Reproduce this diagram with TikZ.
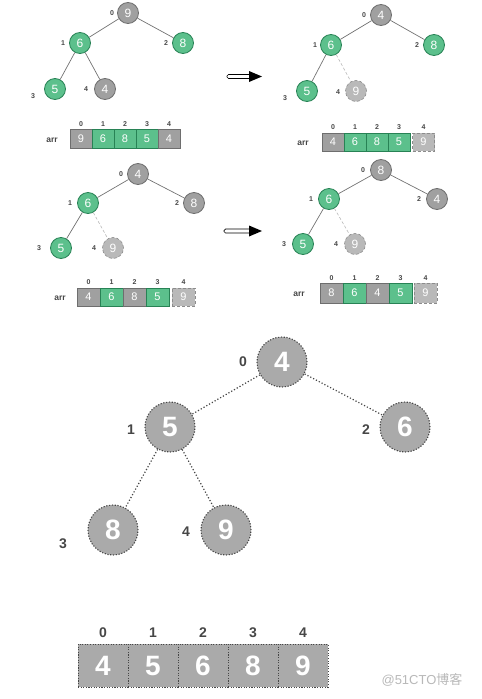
\documentclass[tikz,border=0pt]{standalone}
\usepackage{fontspec}
\setmainfont{Liberation Sans}
\newfontfamily\cjkfont{Noto Sans CJK SC}
\definecolor{hgreen}{RGB}{92,192,140}
\definecolor{hgreendk}{RGB}{40,130,85}
\definecolor{hgrey}{RGB}{160,160,160}
\definecolor{hgreydk}{RGB}{110,110,110}
\definecolor{hlight}{RGB}{185,185,185}
\definecolor{hdash}{RGB}{140,140,140}
\definecolor{hbig}{RGB}{170,170,170}
\definecolor{hlabel}{RGB}{70,70,70}
\definecolor{hedge}{RGB}{115,115,115}
\begin{document}
\begin{tikzpicture}[x=1pt,y=-1pt,
  base/.style={circle,minimum size=21pt,inner sep=0pt,line width=0.8pt,text=white,font=\fontsize{12}{12}\selectfont},
  gnode/.style={base,fill=hgreen,draw=hgreendk},
  ynode/.style={base,fill=hgrey,draw=hgreydk},
  dnode/.style={base,fill=hlight,draw=hdash,densely dashed,line width=0.6pt},
  bignode/.style={circle,minimum size=50pt,inner sep=0pt,fill=hbig,draw=hlabel,dash pattern=on 1.2pt off 1.6pt,line width=1.1pt,text=white,font=\bfseries\fontsize{28}{28}\selectfont},
  idx/.style={text=hlabel,font=\bfseries\fontsize{7}{7}\selectfont,inner sep=0pt},
  bigidx/.style={text=hlabel,font=\bfseries\fontsize{14}{14}\selectfont,inner sep=0pt},
  edge/.style={draw=hedge,line width=0.7pt},
  dedge/.style={draw=hlight,densely dashed,line width=0.6pt},
  bedge/.style={draw=hlabel,dash pattern=on 1.2pt off 2pt,line width=1.2pt},
  cellbase/.style={rectangle,inner sep=0pt,line width=0.7pt,text=white,font=\fontsize{11}{11}\selectfont},
  gcell/.style={cellbase,fill=hgreen,draw=hgreendk},
  ycell/.style={cellbase,fill=hgrey,draw=hgreydk},
  dcell/.style={cellbase,fill=hlight,draw=hdash,densely dashed,line width=0.6pt},
  arrlabel/.style={text=hlabel,font=\bfseries\fontsize{8.5}{8.5}\selectfont,inner sep=0pt},
  bigcell/.style={rectangle,inner sep=0pt,minimum width=50pt,minimum height=43pt,fill=hbig,draw=hlabel,dash pattern=on 1.1pt off 1.5pt,line width=1pt,text=white,font=\bfseries\fontsize{28}{28}\selectfont}
]
\useasboundingbox (0,0) rectangle (482,699);

% ---------- Panel 1 ----------
\node[ynode] (a0) at (128,13) {9};
\node[gnode] (a1) at (80,43) {6};
\node[gnode] (a2) at (183,43) {8};
\node[gnode] (a3) at (55,89) {5};
\node[ynode] (a4) at (105,89) {4};
\draw[edge] (a0) -- (a1);
\draw[edge] (a0) -- (a2);
\draw[edge] (a1) -- (a3);
\draw[edge] (a1) -- (a4);
\node[idx] (al0) at (112,13) {0};
\node[idx] (al1) at (63,43) {1};
\node[idx] (al2) at (166,43) {2};
\node[idx] (al3) at (33,96) {3};
\node[idx] (al4) at (86,89) {4};
\node[arrlabel] (aarr) at (52,140) {arr};
\foreach \v/\s [count=\i from 0] in {9/ycell,6/gcell,8/gcell,5/gcell,4/ycell}{
  \node[\s,minimum width=22pt,minimum height=19pt] (ac\i) at (81+22*\i,138.5) {\v};
  \node[idx] (ai\i) at (81+22*\i,124) {\i};
}

% ---------- Arrow 1 ----------
\draw[line width=0.7pt,rounded corners=1.5pt] (227,74.5) rectangle (251,78.5);
\fill (249,71) -- (262,76.5) -- (249,82) -- cycle;

% ---------- Panel 2 ----------
\node[ynode] (b0) at (381,15) {4};
\node[gnode] (b1) at (331,45) {6};
\node[gnode] (b2) at (434,45) {8};
\node[gnode] (b3) at (307,91) {5};
\node[dnode] (b4) at (356,91) {9};
\draw[edge] (b0) -- (b1);
\draw[edge] (b0) -- (b2);
\draw[edge] (b1) -- (b3);
\draw[dedge] (b1) -- (b4);
\node[idx] (bl0) at (364,15) {0};
\node[idx] (bl1) at (315,45) {1};
\node[idx] (bl2) at (417,45) {2};
\node[idx] (bl3) at (285,98) {3};
\node[idx] (bl4) at (338,92) {4};
\node[arrlabel] (barr) at (303,143) {arr};
\foreach \v/\s [count=\i from 0] in {4/ycell,6/gcell,8/gcell,5/gcell}{
  \node[\s,minimum width=22pt,minimum height=18pt] (bc\i) at (333+22*\i,142) {\v};
  \node[idx] (bi\i) at (333+22*\i,127) {\i};
}
\node[dcell,minimum width=22pt,minimum height=18pt] (bc4) at (423.5,142) {9};
\node[idx] (bi4) at (423.5,127) {4};

% ---------- Panel 3 ----------
\node[ynode] (c0) at (138,174) {4};
\node[gnode] (c1) at (88,203) {6};
\node[ynode] (c2) at (194,203) {8};
\node[gnode] (c3) at (61,248) {5};
\node[dnode] (c4) at (113,248) {9};
\draw[edge] (c0) -- (c1);
\draw[edge] (c0) -- (c2);
\draw[edge] (c1) -- (c3);
\draw[dedge] (c1) -- (c4);
\node[idx] (cl0) at (121,174) {0};
\node[idx] (cl1) at (70,203) {1};
\node[idx] (cl2) at (177,203) {2};
\node[idx] (cl3) at (39,248) {3};
\node[idx] (cl4) at (94,248) {4};
\node[arrlabel] (carr) at (60,298) {arr};
\foreach \v/\s [count=\i from 0] in {4/ycell,6/gcell,8/ycell,5/gcell}{
  \node[\s,minimum width=23pt,minimum height=18pt] (cc\i) at (88.5+23*\i,297) {\v};
  \node[idx] (ci\i) at (88.5+23*\i,282) {\i};
}
\node[dcell,minimum width=23pt,minimum height=18pt] (cc4) at (183.5,297) {9};
\node[idx] (ci4) at (183.5,282) {4};

% ---------- Arrow 2 ----------
\draw[line width=0.7pt,rounded corners=1.5pt] (224,229) rectangle (251,233);
\fill (249,225.5) -- (262,231) -- (249,236.5) -- cycle;

% ---------- Panel 4 ----------
\node[ynode] (d0) at (381,170) {8};
\node[gnode] (d1) at (329,199) {6};
\node[ynode] (d2) at (437,199) {4};
\node[gnode] (d3) at (303,244) {5};
\node[dnode] (d4) at (355,244) {9};
\draw[edge] (d0) -- (d1);
\draw[edge] (d0) -- (d2);
\draw[edge] (d1) -- (d3);
\draw[dedge] (d1) -- (d4);
\node[idx] (dl0) at (363,170) {0};
\node[idx] (dl1) at (311,199) {1};
\node[idx] (dl2) at (419,199) {2};
\node[idx] (dl3) at (284,244) {3};
\node[idx] (dl4) at (336,244) {4};
\node[arrlabel] (darr) at (299,294) {arr};
\foreach \v/\s [count=\i from 0] in {8/ycell,6/gcell,4/ycell,5/gcell}{
  \node[\s,minimum width=23pt,minimum height=20pt] (dc\i) at (331.5+23*\i,293) {\v};
  \node[idx] (di\i) at (331.5+23*\i,278) {\i};
}
\node[dcell,minimum width=23pt,minimum height=20pt] (dc4) at (425.5,293) {9};
\node[idx] (di4) at (425.5,278) {4};

% ---------- Big tree ----------
\node[bignode] (e0) at (282,362) {4};
\node[bignode] (e1) at (170,427) {5};
\node[bignode] (e2) at (405,427) {6};
\node[bignode] (e3) at (113,530) {8};
\node[bignode] (e4) at (226,530) {9};
\draw[bedge] (e0) -- (e1);
\draw[bedge] (e0) -- (e2);
\draw[bedge] (e1) -- (e3);
\draw[bedge] (e1) -- (e4);
\node[bigidx] (el0) at (243,362) {0};
\node[bigidx] (el1) at (131,430) {1};
\node[bigidx] (el2) at (366,430) {2};
\node[bigidx] (el3) at (63,544) {3};
\node[bigidx] (el4) at (186,532) {4};

% ---------- Big array ----------
\foreach \v [count=\i from 0] in {4,5,6,8,9}{
  \node[bigcell] (fc\i) at (103+50*\i,665.5) {\v};
  \node[bigidx] (fi\i) at (103+50*\i,633) {\i};
}

% ---------- Watermark ----------
\node[text=black!28,font=\fontsize{13}{13}\selectfont,inner sep=0pt] (wm) at (422,680) {@51CTO{\cjkfont 博客}};
\end{tikzpicture}
\end{document}
